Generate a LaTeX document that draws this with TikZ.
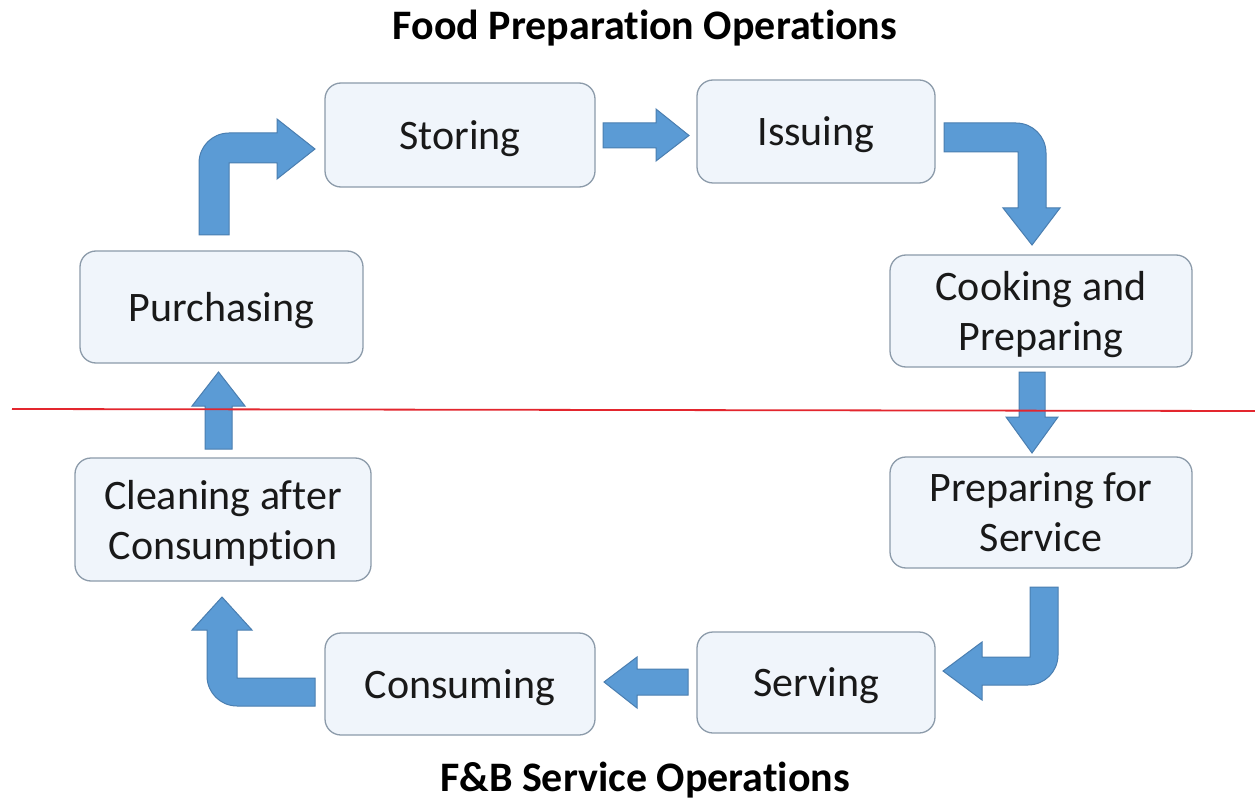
\documentclass[tikz,border=0pt]{standalone}
\usepackage{fontspec}
\setmainfont{Carlito}[Ligatures=NoCommon]
\begin{document}
\begin{tikzpicture}[x=1pt,y=-1pt,
  box/.style={draw=boxline, line width=1.3pt, fill=boxfill, rounded corners=16pt,
    inner sep=0pt, align=center, text=black!90, text depth=0pt,
    font=\fontsize{42}{50}\selectfont},
  blockarrow/.style={fill=arrowfill, draw=arrowline, line width=1pt, line join=miter},
  title/.style={font=\fontsize{42}{50}\selectfont\bfseries, text=black, inner sep=0pt, anchor=base}
]
\definecolor{boxline}{HTML}{8C9BAA}
\definecolor{boxfill}{HTML}{F0F5FB}
\definecolor{arrowfill}{HTML}{5B9BD5}
\definecolor{arrowline}{HTML}{4A7EB0}
\definecolor{redline}{HTML}{E3262E}
\useasboundingbox (0,0) rectangle (1255,802);
\fill[white] (0,0) rectangle (1255,802);

% titles
\node[title] (t1) at (645,40) {Food Preparation Operations};
\node[title] (t2) at (645,791) {F\&B Service Operations};

% boxes
\node[box, minimum width=270, minimum height=104] (storing) at (460,135) {Storing};
\node[box, minimum width=238, minimum height=103] (issuing) at (816,131.5) {Issuing};
\node[box, minimum width=283, minimum height=112] (purch) at (221.5,307) {Purchasing};
\node[box, minimum width=302, minimum height=112] (cook) at (1041,311) {Cooking and\\Preparing};
\node[box, minimum width=296, minimum height=123] (clean) at (223,519.5) {Cleaning after\\Consumption};
\node[box, minimum width=302, minimum height=111] (prep) at (1041,512.5) {Preparing for\\Service};
\node[box, minimum width=270, minimum height=102] (consume) at (460,684) {Consuming};
\node[box, minimum width=238, minimum height=101] (serve) at (816,682.5) {Serving};

% block arrows
% Purchasing -> Storing
\draw[blockarrow] (199,235) -- (199,163) .. controls (199,146.4) and (212.4,133) .. (229,133)
  -- (277,133) -- (277,119) -- (315,149) -- (277,179) -- (277,163) -- (229,163) -- (229,235) -- cycle;
% Storing -> Issuing
\draw[blockarrow] (603,123) -- (656,123) -- (656,109) -- (689,135.5) -- (656,161) -- (656,148) -- (603,148) -- cycle;
% Issuing -> Cooking
\draw[blockarrow] (944,123) -- (1016,123) .. controls (1032.6,123) and (1046,136.4) .. (1046,153)
  -- (1046,208) -- (1060,208) -- (1032,245) -- (1003,208) -- (1018,208) -- (1018,152) -- (944,152) -- cycle;
% Cooking -> Preparing for Service
\draw[blockarrow] (1019,372) -- (1045,372) -- (1045,417) -- (1058,417) -- (1032,453) -- (1006,417) -- (1019,417) -- cycle;
% Preparing for Service -> Serving
\draw[blockarrow] (1030,587) -- (1058,587) -- (1058,655) .. controls (1058,671.6) and (1044.6,685) .. (1028,685)
  -- (982,685) -- (982,700) -- (943,671) -- (982,642) -- (982,657) -- (1030,657) -- cycle;
% Serving -> Consuming
\draw[blockarrow] (688,669) -- (637,669) -- (637,657) -- (604,682) -- (637,708) -- (637,695) -- (688,695) -- cycle;
% Consuming -> Cleaning
\draw[blockarrow] (315,678) -- (315,706) -- (237,706) .. controls (220.4,706) and (207,692.6) .. (207,676)
  -- (207,630) -- (192,630) -- (222,597) -- (252,630) -- (237,630) -- (237,678) -- cycle;
% Cleaning -> Purchasing
\draw[blockarrow] (205,449) -- (205,406) -- (192,406) -- (218.5,372) -- (245,406) -- (232,406) -- (232,449) -- cycle;

% red divider
\coordinate (rl) at (12,409);
\coordinate (rr) at (1255,411);
\draw[redline, line width=1.8pt] (rl) -- (rr);
\end{tikzpicture}
\end{document}
